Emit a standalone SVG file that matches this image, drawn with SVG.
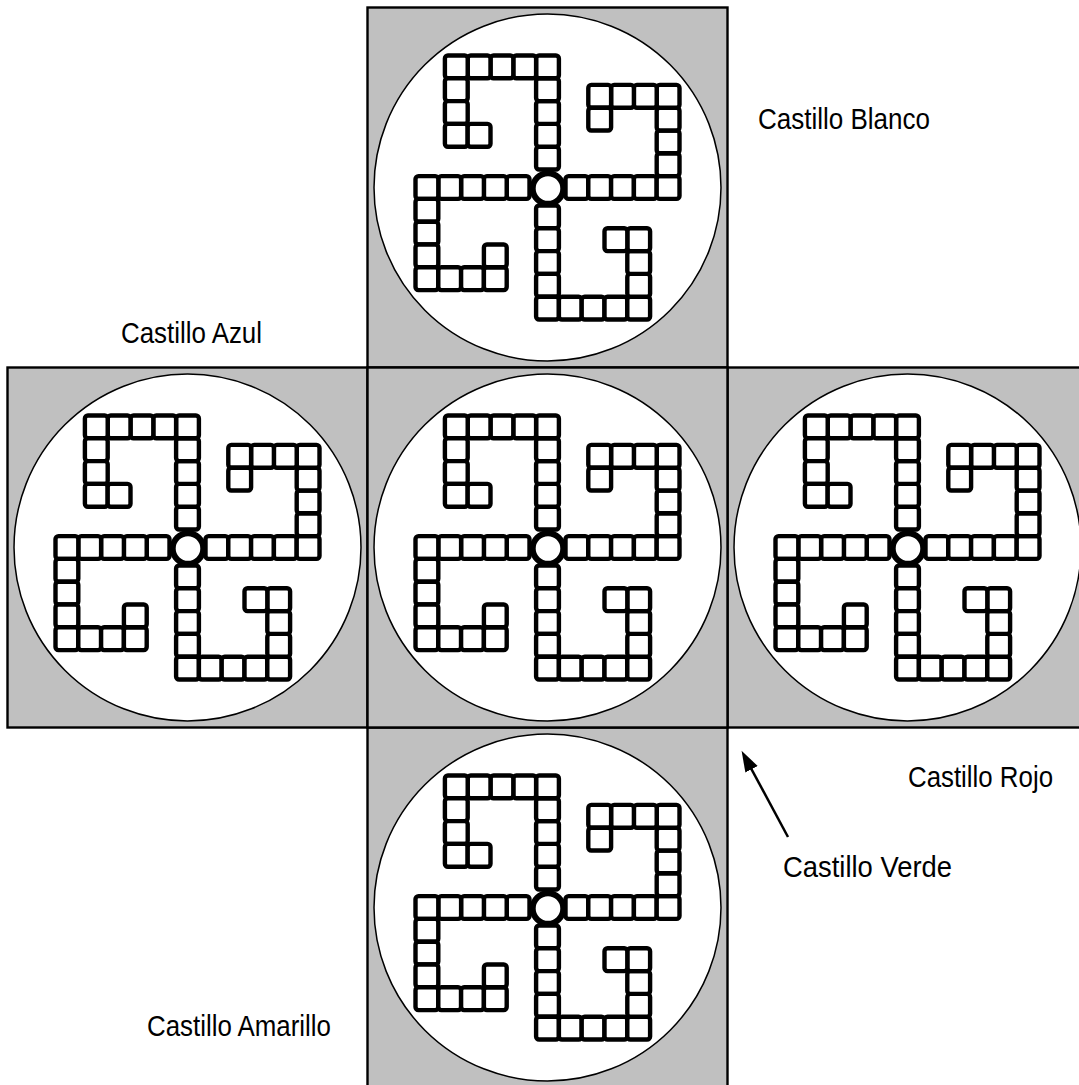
<svg xmlns="http://www.w3.org/2000/svg" xmlns:xlink="http://www.w3.org/1999/xlink" width="1079" height="1085" viewBox="0 0 1079 1085">
<style>
.tile{fill:#C0C0C0;stroke:#000;stroke-width:2.4}
.disc{fill:#fff;stroke:#000;stroke-width:1.5}
.cell{fill:#fff;stroke:#000;stroke-width:4.4}
.ring{fill:#fff;stroke:#000;stroke-width:6}
.lbl{font-family:"Liberation Sans",Arial,sans-serif;font-size:30px;fill:#000}
.conn{stroke:#000;stroke-width:2.5;fill:none}
</style>
<defs>
<marker id="ah" markerUnits="userSpaceOnUse" markerWidth="22" markerHeight="16" viewBox="0 0 22 16" refX="10" refY="7" orient="auto">
<path d="M0,0 L21,7 L0,14 Z" fill="#000"/>
</marker>
<g id="arm">
<rect class="cell" x="-11.4" y="-40.8" width="22.8" height="22.8" rx="3"/>
<rect class="cell" x="-11.4" y="-63.6" width="22.8" height="22.8" rx="3"/>
<rect class="cell" x="-11.4" y="-86.4" width="22.8" height="22.8" rx="3"/>
<rect class="cell" x="-11.4" y="-109.2" width="22.8" height="22.8" rx="3"/>
<rect class="cell" x="-11.4" y="-132" width="22.8" height="22.8" rx="3"/>
<rect class="cell" x="-34.2" y="-132" width="22.8" height="22.8" rx="3"/>
<rect class="cell" x="-57" y="-132" width="22.8" height="22.8" rx="3"/>
<rect class="cell" x="-79.8" y="-132" width="22.8" height="22.8" rx="3"/>
<rect class="cell" x="-102.6" y="-132" width="22.8" height="22.8" rx="3"/>
<rect class="cell" x="-102.6" y="-109.2" width="22.8" height="22.8" rx="3"/>
<rect class="cell" x="-102.6" y="-86.4" width="22.8" height="22.8" rx="3"/>
<rect class="cell" x="-102.6" y="-63.6" width="22.8" height="22.8" rx="3"/>
<rect class="cell" x="-79.8" y="-63.6" width="22.8" height="22.8" rx="3"/>
</g>
<g id="board">
<circle class="disc" cx="0" cy="0" r="173.5"/>
<use xlink:href="#arm"/>
<use xlink:href="#arm" transform="rotate(90)"/>
<use xlink:href="#arm" transform="rotate(180)"/>
<use xlink:href="#arm" transform="rotate(270)"/>
<circle class="ring" cx="0.5" cy="1" r="15.3"/>
</g>
</defs>
<g id="castillo-blanco">
<rect class="tile" x="367.5" y="7.5" width="360" height="360"/>
<use xlink:href="#board" transform="translate(547.5,187.5)"/>
<text class="lbl" x="758" y="128.5" textLength="172" lengthAdjust="spacingAndGlyphs">Castillo Blanco</text>
</g>
<g id="castillo-azul">
<rect class="tile" x="7.5" y="367.5" width="360" height="360"/>
<use xlink:href="#board" transform="translate(187.5,547.5)"/>
<text class="lbl" x="121" y="343" textLength="141" lengthAdjust="spacingAndGlyphs">Castillo Azul</text>
</g>
<g id="castillo-rojo">
<rect class="tile" x="727.5" y="367.5" width="360" height="360"/>
<use xlink:href="#board" transform="translate(907.5,547.5)"/>
<text class="lbl" x="908" y="786.5" textLength="145" lengthAdjust="spacingAndGlyphs">Castillo Rojo</text>
</g>
<g id="castillo-amarillo">
<rect class="tile" x="367.5" y="727.5" width="360" height="360"/>
<use xlink:href="#board" transform="translate(547.5,907.5)"/>
<text class="lbl" x="147" y="1035.5" textLength="184" lengthAdjust="spacingAndGlyphs">Castillo Amarillo</text>
</g>
<g id="castillo-verde">
<rect class="tile" x="367.5" y="367.5" width="360" height="360"/>
<use xlink:href="#board" transform="translate(547.5,547.5)"/>
<text class="lbl" x="783" y="877" textLength="169" lengthAdjust="spacingAndGlyphs">Castillo Verde</text>
</g>
<g id="connectors">
<line class="conn" x1="788" y1="837" x2="746.8" y2="760.5" marker-end="url(#ah)"/>
</g>
</svg>
